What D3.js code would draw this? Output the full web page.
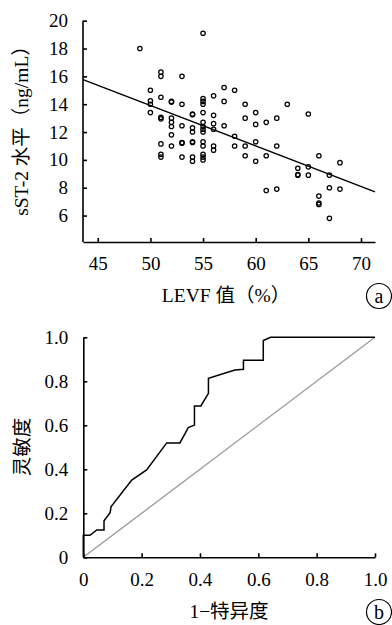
<!DOCTYPE html>
<html>
<head>
<meta charset="utf-8">
<script src="https://cdn.jsdelivr.net/npm/d3@7"></script>
<style>
  body { margin: 0; background: #fff; }
  svg text { font-family: "Liberation Serif", "Noto Sans CJK SC", serif; fill: #000; }
</style>
</head>
<body>
<svg id="chart" width="392" height="625"></svg>
<script>
// panel a: LEVF vs sST-2
const levf = [
  49,
  50, 50, 50, 50,
  51, 51, 51, 51, 51, 51, 51, 51,
  52, 52, 52, 52, 52, 52, 52,
  53, 53, 53, 53, 53, 53,
  54, 54, 54, 54, 54, 54, 54, 54,
  55, 55, 55, 55, 55, 55, 55, 55, 55, 55, 55, 55, 55, 55,
  56, 56, 56, 56, 56, 56,
  57, 57, 57,
  58, 58, 58,
  59, 59, 59, 59,
  60, 60, 60, 60,
  61, 61, 61,
  62, 62, 62,
  63,
  64, 64, 64,
  65, 65, 65,
  66, 66, 66, 66,
  67, 67, 67,
  68, 68
];
const sst2 = [
  18.0,
  15.0, 14.25, 14.0, 13.4,
  16.3, 16.0, 14.5, 13.05, 12.95, 11.15, 10.4, 10.2,
  14.2, 14.15, 13.0, 12.7, 12.4, 11.8, 11.0,
  16.0, 14.0, 12.45, 11.25, 11.2, 10.2,
  13.3, 13.25, 12.3, 12.0, 11.3, 11.25, 10.2, 9.9,
  19.1, 14.4, 14.2, 14.0, 13.4, 12.7, 12.4, 12.2, 12.0, 11.3, 11.0, 10.4, 10.2, 10.0,
  14.6, 13.2, 12.6, 12.2, 11.0, 10.7,
  15.2, 14.2, 12.45,
  15.0, 11.7, 11.0,
  14.0, 13.0, 11.0, 10.3,
  13.4, 12.55, 11.3, 9.9,
  12.7, 10.3, 7.8,
  13.0, 11.0, 7.9,
  14.0,
  9.4, 8.95, 8.9,
  13.3, 9.5, 8.9,
  10.3, 7.4, 6.9, 6.8,
  8.9, 8.0, 5.8,
  9.8, 7.9
];
const fitIntercept = 28.46;
const fitSlope = -0.291;
const levfTicks = [45, 50, 55, 60, 65, 70];
const sst2Ticks = [6, 8, 10, 12, 14, 16, 18, 20];

// panel b: ROC
const rocFpr = [0, 0, 0.023, 0.046, 0.071, 0.071, 0.092, 0.095, 0.166, 0.217, 0.286, 0.331, 0.354, 0.36, 0.381, 0.381, 0.403, 0.429, 0.429, 0.52, 0.549, 0.549, 0.617, 0.617, 0.642, 1];
const rocTpr = [0, 0.10, 0.10, 0.124, 0.124, 0.166, 0.203, 0.23, 0.351, 0.397, 0.52, 0.52, 0.575, 0.59, 0.601, 0.688, 0.688, 0.745, 0.814, 0.851, 0.855, 0.896, 0.896, 0.985, 1, 1];
const rocTicks = [0, 0.2, 0.4, 0.6, 0.8, 1.0];

const svg = d3.select('#chart');
const tickFont = 19;
const titleFont = 19.5;

function styleAxis(g) {
  g.select('.domain').attr('stroke', '#000').attr('stroke-width', 1.6);
  g.selectAll('.tick line').attr('stroke', '#000').attr('stroke-width', 1.6);
  g.selectAll('.tick text').style('font-size', tickFont + 'px').attr('fill', '#000');
}

function panelLabel(cx, cy, label) {
  svg.append('circle')
    .attr('cx', cx).attr('cy', cy).attr('r', 12.5)
    .attr('fill', 'none').attr('stroke', '#000').attr('stroke-width', 1.2);
  svg.append('text')
    .attr('x', cx).attr('y', cy).attr('dy', '0.33em')
    .attr('text-anchor', 'middle')
    .style('font-size', '20px')
    .text(label);
}

// ---- panel a ----
const xA = d3.scaleLinear().domain([43.6, 71.33]).range([83, 375]);
const yA = d3.scaleLinear().domain([4.1, 20]).range([242, 20.7]);

svg.append('g')
  .attr('transform', `translate(0,${yA(4.1)})`)
  .call(d3.axisBottom(xA).tickValues(levfTicks).tickSize(-4).tickSizeOuter(0).tickPadding(15))
  .call(styleAxis);

svg.append('g')
  .attr('transform', `translate(${xA(43.6)},0)`)
  .call(d3.axisLeft(yA).tickValues(sst2Ticks).tickSize(-4).tickSizeOuter(0).tickPadding(15))
  .call(g => g.select('.domain').attr('d', `M0,${yA(20)}V${yA(4.1)}`))
  .call(styleAxis);

const xDom = xA.domain();
svg.append('line')
  .attr('x1', xA(xDom[0])).attr('y1', yA(fitIntercept + fitSlope * xDom[0]))
  .attr('x2', xA(xDom[1])).attr('y2', yA(fitIntercept + fitSlope * xDom[1]))
  .attr('stroke', '#000').attr('stroke-width', 1.4);

svg.append('g')
  .selectAll('circle')
  .data(levf.map((d, i) => [d, sst2[i]]))
  .join('circle')
  .attr('cx', d => xA(d[0]))
  .attr('cy', d => yA(d[1]))
  .attr('r', 2.2)
  .attr('fill', 'none')
  .attr('stroke', '#000')
  .attr('stroke-width', 1.25);

svg.append('text')
  .attr('x', 226).attr('y', 302)
  .attr('text-anchor', 'middle')
  .style('font-size', titleFont + 'px')
  .text('LEVF 值（%）');

svg.append('text')
  .attr('transform', 'translate(28,126) rotate(-90)')
  .attr('text-anchor', 'middle')
  .style('font-size', titleFont + 'px')
  .text('sST-2 水平（ng/mL）');

panelLabel(379, 296, 'a');

// ---- panel b ----
const xB = d3.scaleLinear().domain([0, 1]).range([83.3, 375]);
const yB = d3.scaleLinear().domain([0, 1]).range([557.3, 337.3]);
const fmt = d => d === 0 ? '0' : d3.format('.1f')(d);

svg.append('line')
  .attr('x1', xB(0)).attr('y1', yB(0))
  .attr('x2', xB(1)).attr('y2', yB(1))
  .attr('stroke', '#999').attr('stroke-width', 1.3);

svg.append('path')
  .datum(rocFpr.map((d, i) => [d, rocTpr[i]]))
  .attr('d', d3.line().x(d => xB(d[0])).y(d => yB(d[1])))
  .attr('fill', 'none')
  .attr('stroke', '#000')
  .attr('stroke-width', 1.5);

svg.append('g')
  .attr('transform', `translate(0,${yB(0)})`)
  .call(d3.axisBottom(xB).tickValues(rocTicks).tickFormat(fmt).tickSize(-4).tickSizeOuter(0).tickPadding(15))
  .call(styleAxis);

svg.append('g')
  .attr('transform', `translate(${xB(0)},0)`)
  .call(d3.axisLeft(yB).tickValues(rocTicks).tickFormat(fmt).tickSize(-4).tickSizeOuter(0).tickPadding(15))
  .call(styleAxis);

svg.append('text')
  .attr('x', 229).attr('y', 618)
  .attr('text-anchor', 'middle')
  .style('font-size', titleFont + 'px')
  .text('1−特异度');

svg.append('text')
  .attr('transform', 'translate(29,447) rotate(-90)')
  .attr('text-anchor', 'middle')
  .style('font-size', titleFont + 'px')
  .text('灵敏度');

panelLabel(379, 612, 'b');
</script>
</body>
</html>
